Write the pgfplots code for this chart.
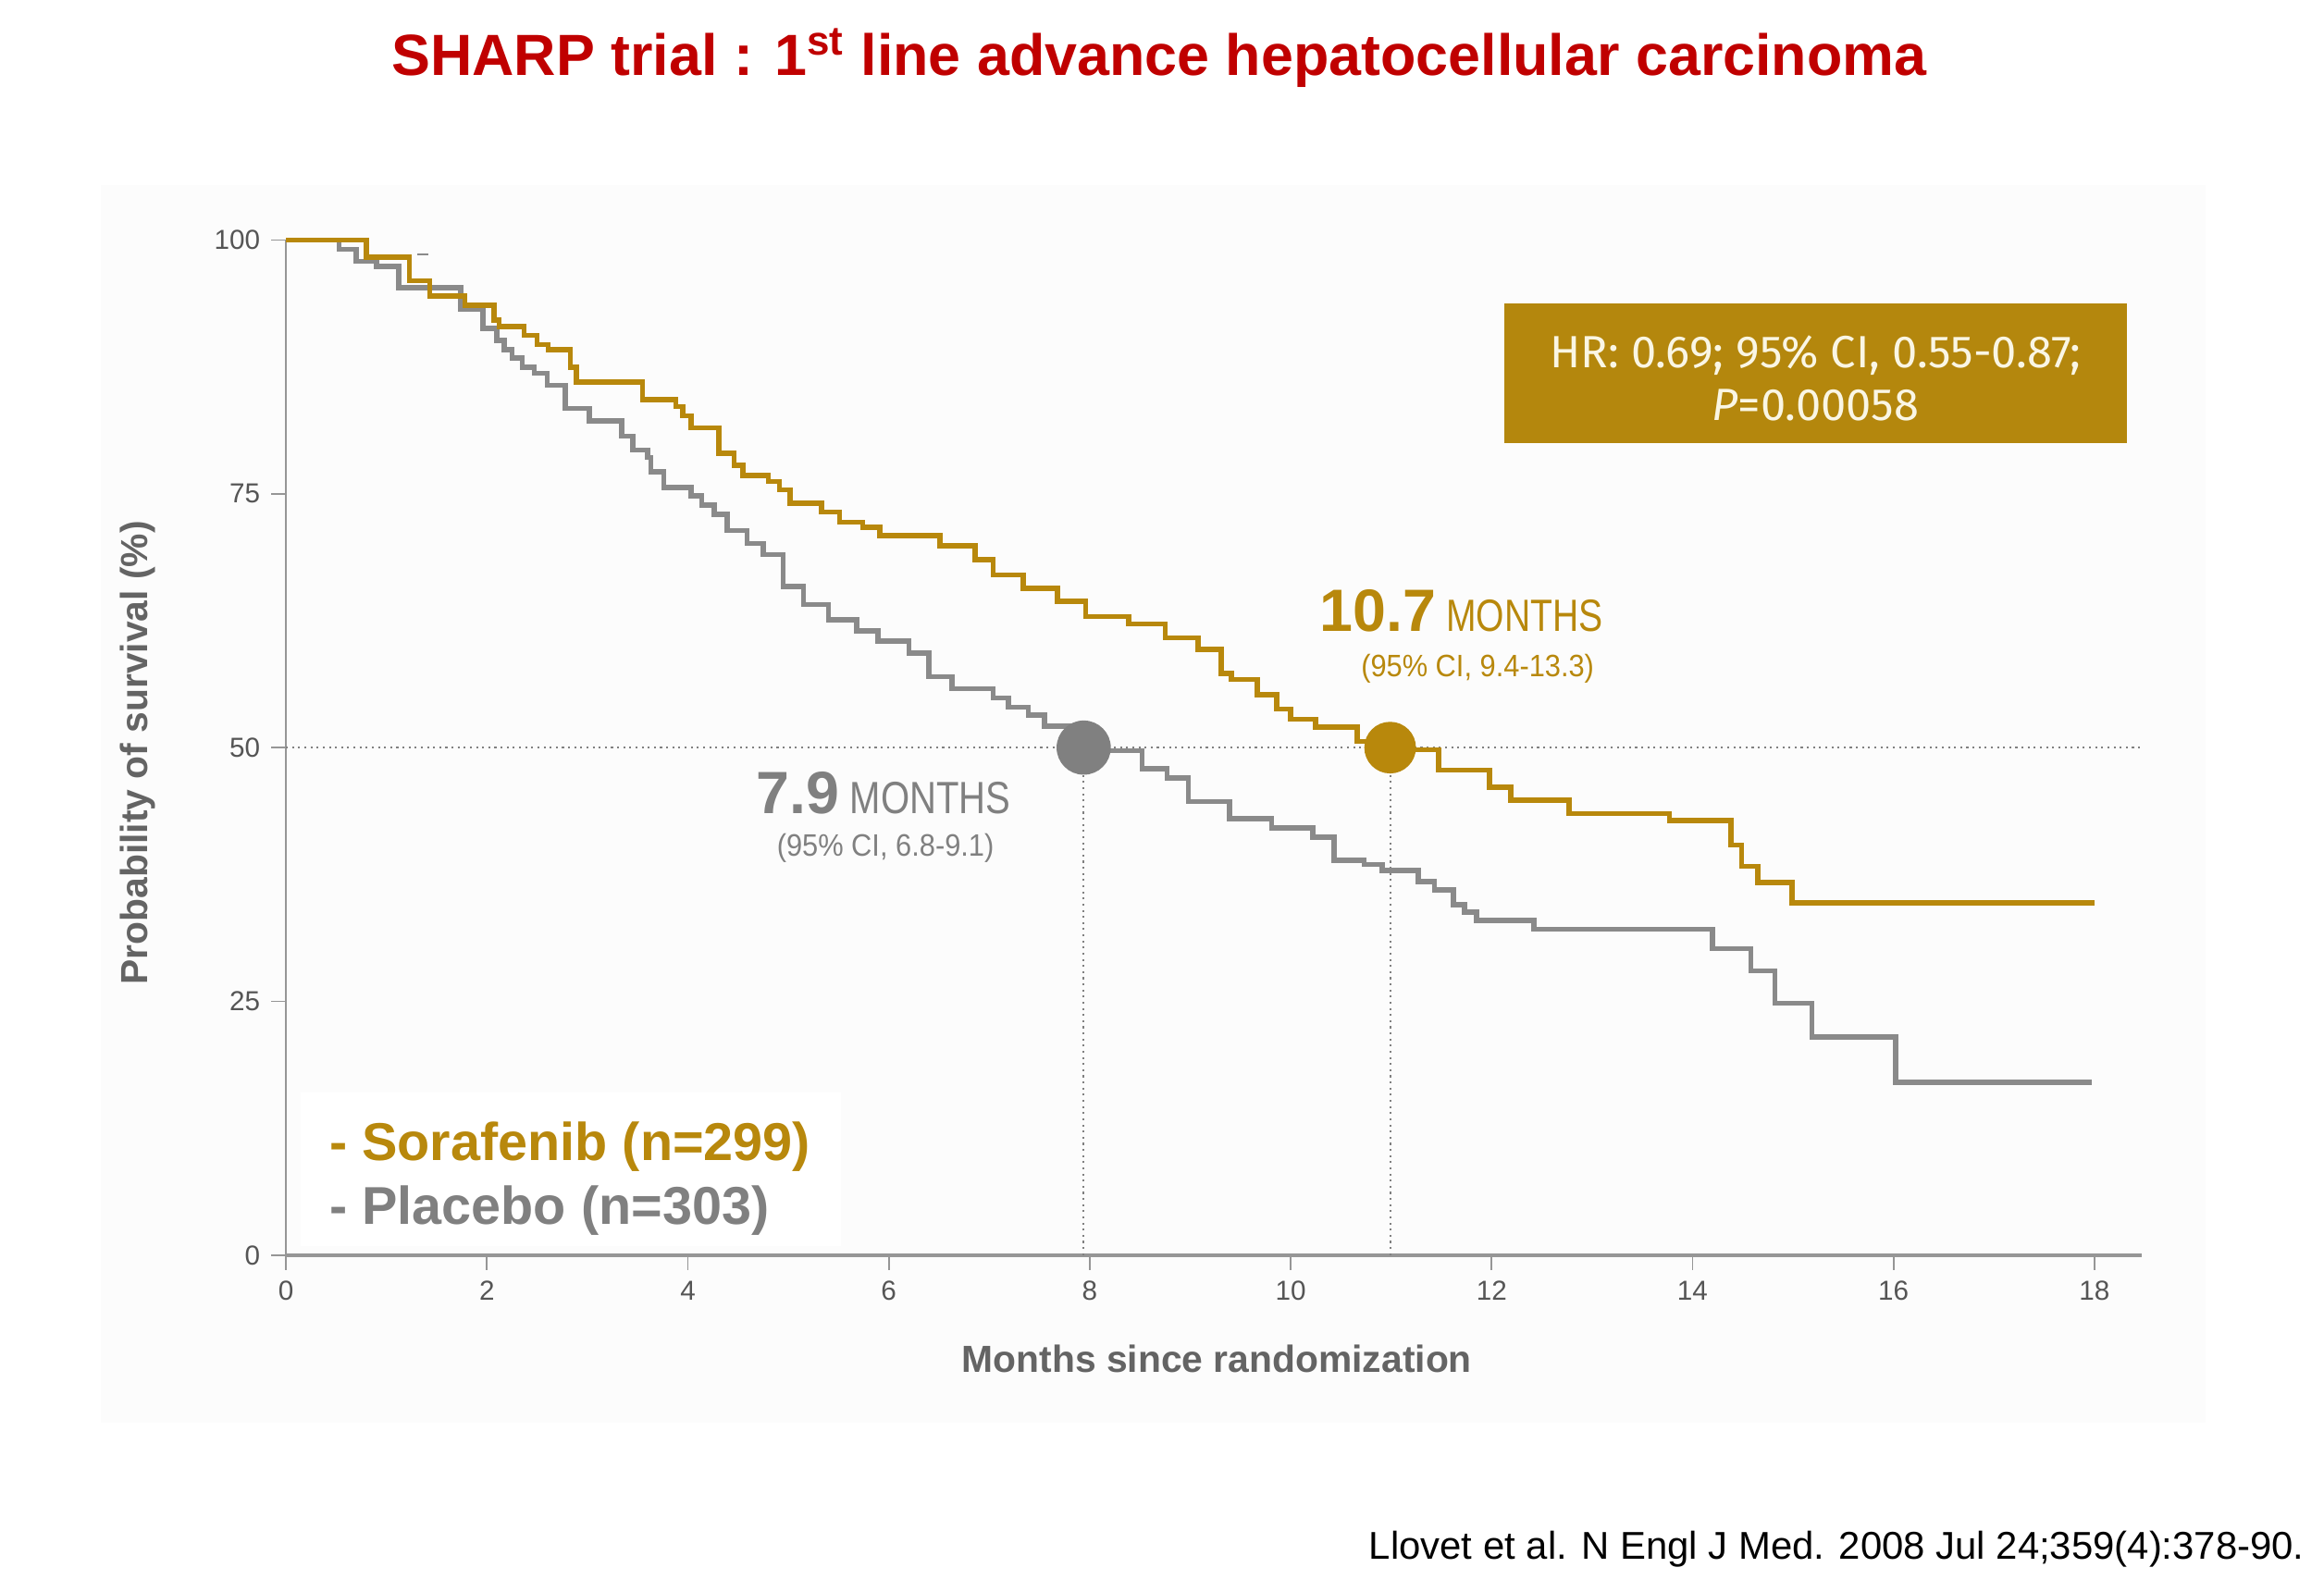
\documentclass[border=0pt]{standalone}
\usepackage{pgfplots}
\pgfplotsset{compat=1.18}
\usepackage{graphicx}
\usepackage{fontspec}
\setmainfont{Liberation Sans}
\newfontfamily\firafont{Fira Sans}
\definecolor{gold}{RGB}{184,136,12}
\definecolor{goldbox}{RGB}{180,135,13}
\definecolor{kmgray}{RGB}{138,138,138}
\definecolor{dotgray}{RGB}{128,128,128}
\definecolor{titlered}{RGB}{192,0,0}
\definecolor{labgray}{RGB}{100,100,100}
\definecolor{ticklab}{RGB}{85,85,85}
\definecolor{axgray}{RGB}{150,150,150}
\definecolor{panel}{RGB}{252,252,252}
\definecolor{cream}{RGB}{250,246,228}
\definecolor{medgray}{RGB}{128,128,128}

\begin{document}
\begin{tikzpicture}
\path[use as bounding box] (0,0) rectangle (720pt,489.5pt);
\fill[white] (0,0) rectangle (720pt,489.5pt);
\fill[panel] (31.2pt,48.7pt) rectangle (683.3pt,432.1pt);
\fill[white] (93.2pt,103.3pt) rectangle (260.4pt,151.1pt);

\begin{axis}[
  at={(88.6pt,100.6pt)}, anchor=south west,
  width=574.9pt, height=314.5pt, scale only axis,
  xmin=0, xmax=18.47, ymin=0, ymax=100,
  axis x line*=bottom, axis y line*=left,
  xtick={0,2,...,18}, ytick={0,25,50,75,100},
  tick align=outside, major tick length=4.5pt,
  tick style={axgray, line width=0.5pt},
  x axis line style={axgray, line width=1.1pt},
  y axis line style={axgray, line width=0.5pt},
  tick label style={font=\fontsize{8.5}{10}\selectfont, text=ticklab},
  /pgf/number format/assume math mode=true,
  clip=false,
]
% reference lines
\addplot[dotgray, line width=0.6pt, dash pattern=on 0.6pt off 1.3pt] coordinates {(0,50) (18.47,50)};
\addplot[dotgray, line width=0.6pt, dash pattern=on 0.6pt off 1.3pt] coordinates {(7.94,0) (7.94,50)};
\addplot[dotgray, line width=0.6pt, dash pattern=on 0.6pt off 1.3pt] coordinates {(10.99,0) (10.99,50)};
% censor tick
\addplot[kmgray, line width=0.6pt] coordinates {(1.31,98.6) (1.42,98.6)};
% Placebo
\addplot[const plot, kmgray, line width=1.6pt] coordinates {
(0,100) (0.53,99.1) (0.70,97.9) (0.90,97.4) (1.12,95.3) (1.74,93.2) (1.96,91.3)
(2.10,90.1) (2.17,89.2) (2.25,88.4) (2.35,87.5) (2.47,86.9) (2.60,85.7) (2.78,83.4)
(3.02,82.2) (3.34,80.7) (3.45,79.3) (3.60,78.6) (3.63,77.2) (3.76,75.6) (4.03,74.8)
(4.14,73.9) (4.26,73.0) (4.39,71.4) (4.59,70.1) (4.75,69.0) (4.95,65.9) (5.15,64.1)
(5.40,62.6) (5.68,61.5) (5.89,60.5) (6.20,59.3) (6.40,57.0) (6.63,55.8) (7.04,54.9)
(7.19,54.0) (7.39,53.2) (7.55,52.1) (7.94,49.7) (8.52,47.9) (8.77,47.0) (8.98,44.7)
(9.39,43.0) (9.81,42.1) (10.22,41.2) (10.43,38.9) (10.73,38.5) (10.91,37.9) (11.27,36.8)
(11.43,36.0) (11.62,34.5) (11.73,33.8) (11.85,33.0) (12.42,32.1) (14.20,30.2) (14.58,28.0)
(14.82,24.8) (15.19,21.5) (16.02,17.0) (17.97,17.0)};
% Sorafenib
\addplot[const plot, gold, line width=1.6pt] coordinates {
(0,100) (0.80,98.3) (1.23,96.0) (1.43,94.5) (1.78,93.6) (2.07,92.1) (2.12,91.5)
(2.37,90.6) (2.50,89.7) (2.61,89.2) (2.83,87.5) (2.89,86.0) (3.55,84.3) (3.88,83.6)
(3.95,82.7) (4.03,81.5) (4.31,79.0) (4.46,77.8) (4.55,76.8) (4.80,76.2) (4.91,75.4)
(5.02,74.1) (5.33,73.2) (5.51,72.2) (5.74,71.7) (5.91,70.9) (6.51,69.9) (6.86,68.5)
(7.04,67.0) (7.34,65.7) (7.68,64.4) (7.96,62.9) (8.39,62.2) (8.75,60.8) (9.08,59.7)
(9.31,57.3) (9.41,56.7) (9.67,55.2) (9.86,53.8) (10.00,52.8) (10.25,52.0) (10.66,50.6)
(10.95,49.8) (11.47,47.8) (11.98,46.1) (12.19,44.8) (12.77,43.5) (13.77,42.8) (14.38,40.4)
(14.49,38.3) (14.65,36.7) (14.99,34.7) (18.00,34.7)};
% medians
\addplot[only marks, mark=*, mark size=8.2pt, dotgray, mark options={draw=dotgray, fill=dotgray}] coordinates {(7.94,50)};
\addplot[only marks, mark=*, mark size=7.8pt, gold, mark options={draw=gold, fill=gold}] coordinates {(10.99,50)};
\end{axis}

% title
\node[anchor=base, inner sep=0, text=titlered, font=\fontsize{18}{21}\selectfont\bfseries] at (359.1pt,466.1pt) {SHARP trial : 1\textsuperscript{st} line advance hepatocellular carcinoma};
% axis labels
\node[rotate=90, inner sep=0, font=\fontsize{11.7}{14}\selectfont\bfseries, text=labgray] at (42.7pt,256.2pt) {Probability of survival (\%)};
\node[anchor=base, inner sep=0, font=\fontsize{11.7}{14}\selectfont\bfseries, text=labgray] at (377pt,64.3pt) {Months since randomization};
% citation
\node[anchor=base east, inner sep=0, font=\fontsize{12}{14}\selectfont] at (714.1pt,6.4pt) {Llovet et al. N Engl J Med. 2008 Jul 24;359(4):378-90.};
% HR box
\fill[goldbox] (466.1pt,352.2pt) rectangle (659.0pt,395.4pt);
\node[inner sep=0, font=\firafont\fontsize{14}{16}\selectfont, text=cream] at (562.5pt,379.3pt) {HR: 0.69; 95\% CI, 0.55-0.87;};
\node[inner sep=0, font=\firafont\fontsize{14}{16}\selectfont, text=cream] at (562.5pt,364.1pt) {\textit{P}=0.00058};
% median labels
\node[anchor=base west, inner sep=0, text=medgray] at (234.2pt,237.4pt) {{\fontsize{18.5}{20}\selectfont\bfseries 7.9}\hspace{3.2pt}{\fontsize{14}{16}\selectfont\scalebox{0.82}[1]{MONTHS}}};
\node[anchor=base west, inner sep=0, text=medgray, font=\fontsize{9.6}{11}\selectfont] at (240.5pt,224.1pt) {\scalebox{0.92}[1]{(95\% CI, 6.8-9.1)}};
\node[anchor=base west, inner sep=0, text=gold] at (408.7pt,293.9pt) {{\fontsize{18.5}{20}\selectfont\bfseries 10.7}\hspace{3.2pt}{\fontsize{14}{16}\selectfont\scalebox{0.8}[1]{MONTHS}}};
\node[anchor=base west, inner sep=0, text=gold, font=\fontsize{9.6}{11}\selectfont] at (421.5pt,279.7pt) {\scalebox{0.92}[1]{(95\% CI, 9.4-13.3)}};
% legend
\node[anchor=base west, inner sep=0, font=\fontsize{16.5}{19}\selectfont\bfseries, text=gold] at (101.9pt,130.0pt) {- Sorafenib (n=299)};
\node[anchor=base west, inner sep=0, font=\fontsize{16.5}{19}\selectfont\bfseries, text=medgray] at (101.9pt,110.2pt) {- Placebo (n=303)};
\end{tikzpicture}
\end{document}
